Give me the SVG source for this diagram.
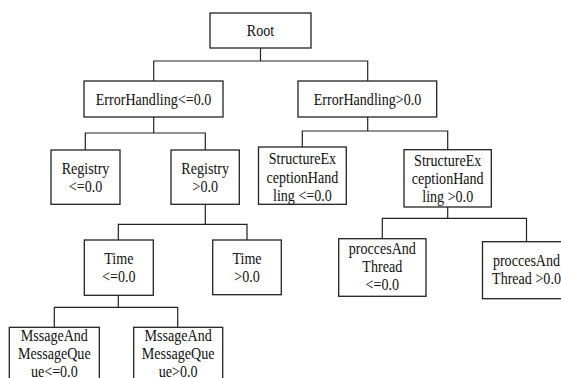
<svg xmlns="http://www.w3.org/2000/svg" width="561" height="378" viewBox="0 0 561 378" font-family="Liberation Serif, Times New Roman, serif" font-size="16" text-anchor="middle">
<style>
rect{fill:#fff;stroke:#222;stroke-width:1.3}
.c path{fill:none;stroke:#222;stroke-width:1.2}
text{fill:#111}
</style>
<rect x="0" y="0" width="561" height="378" style="stroke:none"/>
<g class="c" id="connectors">
<path d="M260.5 48V61M153.7 81V61H367.7V81"/>
<path d="M153.7 117V133M85.3 150V133H205.3V150"/>
<path d="M367.7 117V131M302.3 147V131H447.7V149.7"/>
<path d="M205.3 204V224.3M118.3 240V224.3H247V240"/>
<path d="M447.7 207V218.3M382.3 238.7V218.3H526.5V241.7"/>
<path d="M118.3 295V307.3M54.3 327V307.3H177.7V327"/>
</g>
<g id="root"><rect x="210" y="13" width="101" height="35"/>
<text transform="translate(260.5,35.5) scale(.88,1)">Root</text></g>
<g id="eh-le"><rect x="84" y="81" width="139" height="36"/>
<text transform="translate(153.5,104.7) scale(.88,1)">ErrorHandling&lt;=0.0</text></g>
<g id="eh-gt"><rect x="298" y="81" width="138.7" height="36"/>
<text transform="translate(367.5,104.7) scale(.88,1)">ErrorHandling&gt;0.0</text></g>
<g id="reg-le"><rect x="51" y="150" width="69" height="54.3"/>
<text transform="translate(85.5,173.5) scale(.88,1)">Registry</text>
<text transform="translate(85.5,191.7) scale(.88,1)">&lt;=0.0</text></g>
<g id="reg-gt"><rect x="171" y="150" width="68.3" height="54.3"/>
<text transform="translate(205.2,173.5) scale(.88,1)">Registry</text>
<text transform="translate(205.2,191.7) scale(.88,1)">&gt;0.0</text></g>
<g id="seh-le"><rect x="258.5" y="147" width="87.8" height="57.3"/>
<text transform="translate(302.4,164) scale(.88,1)">StructureEx</text>
<text transform="translate(302.4,182.5) scale(.88,1)">ceptionHand</text>
<text transform="translate(302.4,201) scale(.88,1)">ling &lt;=0.0</text></g>
<g id="seh-gt"><rect x="404" y="149.7" width="87.3" height="57.3"/>
<text transform="translate(447.7,166) scale(.88,1)">StructureEx</text>
<text transform="translate(447.7,184) scale(.88,1)">ceptionHand</text>
<text transform="translate(447.7,202) scale(.88,1)">ling &gt;0.0</text></g>
<g id="time-le"><rect x="84.3" y="240" width="69" height="55.3"/>
<text transform="translate(118.8,263.5) scale(.88,1)">Time</text>
<text transform="translate(118.8,282.3) scale(.88,1)">&lt;=0.0</text></g>
<g id="time-gt"><rect x="212.7" y="240" width="68.6" height="54.7"/>
<text transform="translate(247,263.5) scale(.88,1)">Time</text>
<text transform="translate(247,282.3) scale(.88,1)">&gt;0.0</text></g>
<g id="pt-le"><rect x="338.7" y="238.7" width="87.3" height="57.6"/>
<text transform="translate(382.3,254) scale(.88,1)">proccesAnd</text>
<text transform="translate(382.3,272) scale(.88,1)">Thread</text>
<text transform="translate(382.3,290.3) scale(.88,1)">&lt;=0.0</text></g>
<g id="pt-gt"><rect x="482.5" y="241.7" width="88" height="57"/>
<text transform="translate(526.5,266) scale(.88,1)">proccesAnd</text>
<text transform="translate(526.5,283.7) scale(.88,1)">Thread &gt;0.0</text></g>
<g id="mq-le"><rect x="9.3" y="327.3" width="90" height="70"/>
<text transform="translate(54.3,341) scale(.88,1)">MssageAnd</text>
<text transform="translate(54.3,359.3) scale(.88,1)">MessageQue</text>
<text transform="translate(54.3,377) scale(.88,1)">ue&lt;=0.0</text></g>
<g id="mq-gt"><rect x="133.7" y="327.3" width="89" height="70"/>
<text transform="translate(178.2,341) scale(.88,1)">MssageAnd</text>
<text transform="translate(178.2,359.3) scale(.88,1)">MessageQue</text>
<text transform="translate(178.2,377) scale(.88,1)">ue&gt;0.0</text></g>
</svg>
